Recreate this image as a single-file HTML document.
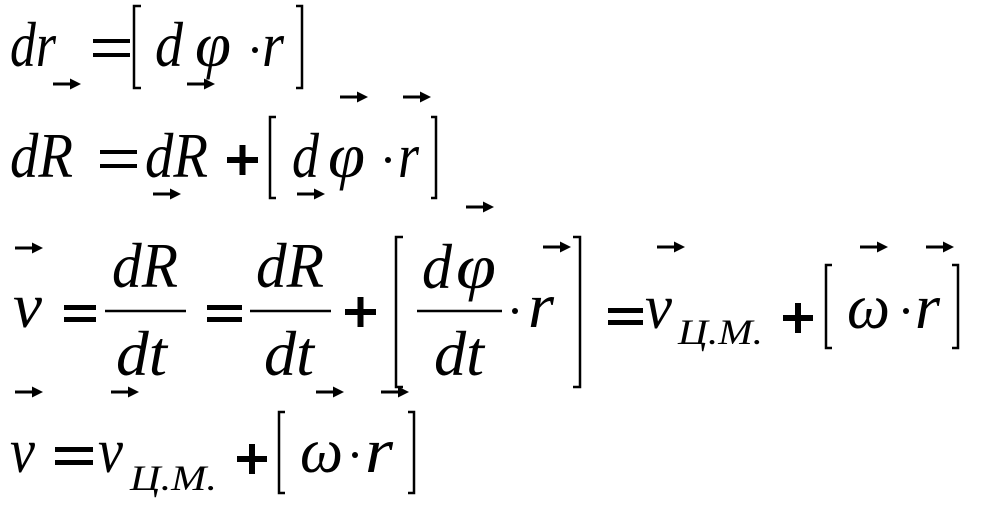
<!DOCTYPE html>
<html><head><meta charset="utf-8"><style>
html,body{margin:0;padding:0;background:#fff;}
svg{display:block}
.m{font-family:"Liberation Serif","Times New Roman","Tinos","DejaVu Serif","Noto Serif CJK SC",serif;font-style:italic;fill:#000}
</style></head><body>
<svg width="982" height="509" viewBox="0 0 982 509" xmlns="http://www.w3.org/2000/svg">
<defs>
<g id="ar"><line x1="0" y1="0" x2="20" y2="0" stroke="#000" stroke-width="3"/><polygon points="17,-5.5 28,0 17,5.5" fill="#000"/></g>
</defs>
<g fill="none" stroke="#000" stroke-width="2.5">
<path d="M141,6 H134 V88 H141"/><path d="M296,6 H302 V88 H296"/>
<path d="M276,117 H270 V198 H276"/><path d="M431,117 H436 V198 H431"/>
<path d="M403,237 H396 V387 H403"/><path d="M573,237 H580 V387 H573"/>
<path d="M832,265 H826 V348 H832"/><path d="M952,265 H958 V348 H952"/>
<path d="M285,412 H279 V493 H285"/><path d="M408,412 H414 V493 H408"/>
<line x1="105" y1="311" x2="186" y2="311"/><line x1="250" y1="311" x2="331" y2="311"/><line x1="417" y1="311" x2="502" y2="311"/>
</g>
<g fill="#000">
<rect x="93" y="39" width="37" height="4"/><rect x="93" y="53" width="37" height="4"/>
<rect x="100" y="150" width="37" height="4"/><rect x="100" y="164" width="37" height="4"/>
<rect x="64" y="305" width="32" height="5"/><rect x="64" y="317" width="32" height="5"/>
<rect x="207" y="305" width="35" height="5"/><rect x="207" y="317" width="35" height="5"/>
<rect x="608" y="308" width="35" height="5"/><rect x="608" y="320" width="35" height="5"/>
<rect x="55" y="447" width="38" height="5"/><rect x="55" y="460" width="38" height="5"/>
<rect x="227" y="157" width="31" height="6"/><rect x="239.5" y="145" width="6" height="30"/>
<rect x="345" y="309" width="31" height="6"/><rect x="357.5" y="297" width="6" height="30"/>
<rect x="783" y="315" width="30" height="6"/><rect x="795" y="303" width="6" height="30"/>
<rect x="237" y="456" width="30" height="6"/><rect x="249" y="444" width="6" height="30"/>
<circle cx="255" cy="50" r="3"/><circle cx="388" cy="160" r="3"/><circle cx="515" cy="311" r="3"/>
<circle cx="906" cy="311" r="3"/><circle cx="355" cy="455" r="3"/>
</g>
<use href="#ar" x="53" y="84"/><use href="#ar" x="187" y="84"/>
<use href="#ar" x="340" y="97"/><use href="#ar" x="403" y="97"/>
<use href="#ar" x="153" y="194"/><use href="#ar" x="297" y="194"/>
<use href="#ar" x="466" y="207"/>
<use href="#ar" x="15" y="248"/><use href="#ar" x="543" y="247"/><use href="#ar" x="657" y="247"/>
<use href="#ar" x="860" y="247"/><use href="#ar" x="926" y="247"/>
<use href="#ar" x="15" y="392"/><use href="#ar" x="111" y="392"/><use href="#ar" x="316" y="392"/><use href="#ar" x="381" y="392"/>
<g class="m" font-size="64">
<text x="10" y="66" textLength="46" lengthAdjust="spacingAndGlyphs">dr</text>
<text x="155" y="66" textLength="28" lengthAdjust="spacingAndGlyphs">d</text>
<text x="195" y="66" textLength="36" lengthAdjust="spacingAndGlyphs">φ</text>
<text x="262" y="66" textLength="22" lengthAdjust="spacingAndGlyphs">r</text>
<text x="10" y="177" textLength="63" lengthAdjust="spacingAndGlyphs">dR</text>
<text x="145" y="177" textLength="63" lengthAdjust="spacingAndGlyphs">dR</text>
<text x="292" y="177" textLength="27" lengthAdjust="spacingAndGlyphs">d</text>
<text x="328" y="177" textLength="37" lengthAdjust="spacingAndGlyphs">φ</text>
<text x="398" y="177" textLength="21" lengthAdjust="spacingAndGlyphs">r</text>
<text x="13" y="327" textLength="29" lengthAdjust="spacingAndGlyphs">v</text>
<text x="112" y="287" textLength="66" lengthAdjust="spacingAndGlyphs">dR</text>
<text x="116" y="375" textLength="51" lengthAdjust="spacingAndGlyphs">dt</text>
<text x="256" y="287" textLength="68" lengthAdjust="spacingAndGlyphs">dR</text>
<text x="264" y="375" textLength="50" lengthAdjust="spacingAndGlyphs">dt</text>
<text x="422" y="288" textLength="30" lengthAdjust="spacingAndGlyphs">d</text>
<text x="456" y="288" textLength="40" lengthAdjust="spacingAndGlyphs">φ</text>
<text x="434" y="375" textLength="50" lengthAdjust="spacingAndGlyphs">dt</text>
<text x="528" y="327" textLength="26" lengthAdjust="spacingAndGlyphs">r</text>
<text x="645" y="328" textLength="27" lengthAdjust="spacingAndGlyphs">v</text>
<text x="847" y="328" textLength="43" lengthAdjust="spacingAndGlyphs">ω</text>
<text x="915" y="328" textLength="25" lengthAdjust="spacingAndGlyphs">r</text>
<text x="10" y="472" textLength="25" lengthAdjust="spacingAndGlyphs">v</text>
<text x="98" y="472" textLength="25" lengthAdjust="spacingAndGlyphs">v</text>
<text x="300" y="472" textLength="43" lengthAdjust="spacingAndGlyphs">ω</text>
<text x="365" y="472" textLength="28" lengthAdjust="spacingAndGlyphs">r</text>
</g>
<g class="m" font-size="36">
<text x="678" y="344" textLength="85" lengthAdjust="spacingAndGlyphs">Ц.М.</text>
<text x="130" y="490" textLength="87" lengthAdjust="spacingAndGlyphs">Ц.М.</text>
</g>
</svg>
</body></html>
